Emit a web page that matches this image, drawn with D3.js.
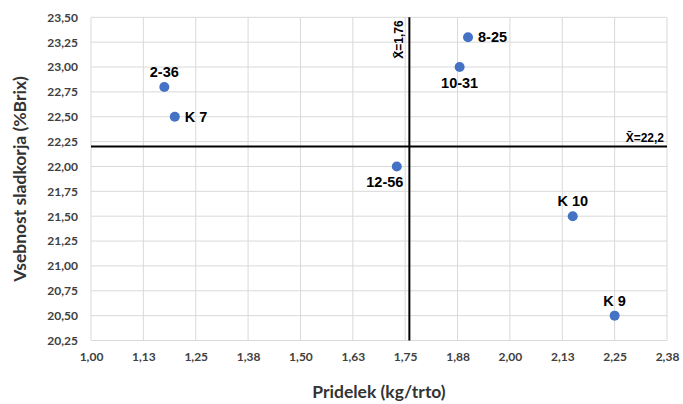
<!DOCTYPE html>
<html><head><meta charset="utf-8">
<script src="https://cdn.jsdelivr.net/npm/d3@7"></script>
<style>body{margin:0;background:#fff}svg{display:block}</style>
</head><body>
<script>
const names = ["2-36","K 7","12-56","10-31","8-25","K 10","K 9"];
const yieldVals = [1.175,1.20,1.73,1.88,1.90,2.15,2.25];
const sugarVals = [22.8,22.5,22.0,23.0,23.3,21.5,20.5];
const labelPos = ["top","right","bottomleft","bottom","right","top","top"];
const xTicks = [1.0,1.125,1.25,1.375,1.5,1.625,1.75,1.875,2.0,2.125,2.25,2.375];
const yTicks = [20.25,20.5,20.75,21.0,21.25,21.5,21.75,22.0,22.25,22.5,22.75,23.0,23.25,23.5];
const meanX = 1.76, meanY = 22.2;
const meanXLabel = "X̄=1,76", meanYLabel = "X̄=22,2";
const xTitle = "Pridelek (kg/trto)", yTitle = "Vsebnost sladkorja (%Brix)";

const W=683,H=404;
const m={l:91,r:16,t:17.3,b:63.5};
const svg=d3.select("body").append("svg").attr("width",W).attr("height",H);
const x=d3.scaleLinear().domain([1.0,2.375]).range([m.l,W-m.r]);
const y=d3.scaleLinear().domain([20.25,23.5]).range([H-m.b,m.t]);
const fmt=v=>d3.format(".2f")(v).replace(".",",");
const fmtX=v=>(Math.round(v*100+1e-6)/100).toFixed(2).replace(".",",");

// gridlines
const g=svg.append("g");
g.selectAll("line.vx").data(xTicks).join("line")
 .attr("x1",d=>x(d)).attr("x2",d=>x(d)).attr("y1",y(23.5)).attr("y2",y(20.25))
 .attr("stroke","#d9d9d9").attr("stroke-width",1);
g.selectAll("line.hy").data(yTicks).join("line")
 .attr("x1",x(1.0)).attr("x2",x(2.375)).attr("y1",d=>y(d)).attr("y2",d=>y(d))
 .attr("stroke","#d9d9d9").attr("stroke-width",1);

// axes
const xAxis=d3.axisBottom(x).tickValues(xTicks).tickSize(0).tickPadding(12).tickFormat(fmtX);
const yAxis=d3.axisLeft(y).tickValues(yTicks).tickSize(0).tickPadding(13).tickFormat(fmt);
const ax=svg.append("g").attr("transform",`translate(0,${y(20.25)})`).call(xAxis);
const ay=svg.append("g").attr("transform",`translate(${x(1.0)},0)`).call(yAxis);
[ax,ay].forEach(a=>{a.select(".domain").remove();
 a.selectAll("text").attr("font-family","Lato, 'Open Sans', sans-serif").attr("font-weight","bold")
  .attr("font-size",12).attr("fill","#404040");});

// titles
svg.append("text").attr("x",(x(1.0)+x(2.375))/2).attr("y",398).attr("text-anchor","middle")
 .attr("font-family","Lato, 'Open Sans', sans-serif").attr("font-weight","bold").attr("font-size",17.5).attr("fill","#333").text(xTitle);
svg.append("text").attr("transform",`translate(26,${(y(20.25)+y(23.5))/2}) rotate(-90)`).attr("text-anchor","middle")
 .attr("font-family","Lato, 'Open Sans', sans-serif").attr("font-weight","bold").attr("font-size",17.5).attr("fill","#333").text(yTitle);

// mean lines
svg.append("line").attr("x1",x(meanX)).attr("x2",x(meanX)).attr("y1",y(23.5)).attr("y2",y(20.25))
 .attr("stroke","#000").attr("stroke-width",2);
svg.append("line").attr("x1",x(1.0)).attr("x2",x(2.375)).attr("y1",y(meanY)).attr("y2",y(meanY))
 .attr("stroke","#000").attr("stroke-width",2);
svg.append("text").attr("transform",`translate(${x(meanX)-6},${y(23.5)+3}) rotate(-90)`).attr("text-anchor","end")
 .attr("font-family","'Liberation Sans', Arial, sans-serif").attr("font-weight","bold").attr("font-size",12).attr("fill","#000").text(meanXLabel);
svg.append("text").attr("x",x(2.375)-3).attr("y",y(meanY)-5).attr("text-anchor","end")
 .attr("font-family","'Liberation Sans', Arial, sans-serif").attr("font-weight","bold").attr("font-size",12).attr("fill","#000").text(meanYLabel);

// points
const data=names.map((n,i)=>({n,x:yieldVals[i],y:sugarVals[i],p:labelPos[i]}));
svg.selectAll("circle.pt").data(data).join("circle")
 .attr("cx",d=>x(d.x)).attr("cy",d=>y(d.y)).attr("r",5).attr("fill","#4472C4");
svg.selectAll("text.lbl").data(data).join("text")
 .attr("font-family","'Liberation Sans', Arial, sans-serif").attr("font-weight","bold").attr("font-size",14.5).attr("fill","#000")
 .attr("text-anchor",d=>d.p==="right"?"start":"middle")
 .attr("x",d=>d.p==="right"?x(d.x)+10:d.p==="bottomleft"?x(d.x)-12:x(d.x))
 .attr("y",d=>d.p==="top"?y(d.y)-10:d.p==="right"?y(d.y)+5:y(d.y)+21)
 .text(d=>d.n);
</script>
</body></html>
